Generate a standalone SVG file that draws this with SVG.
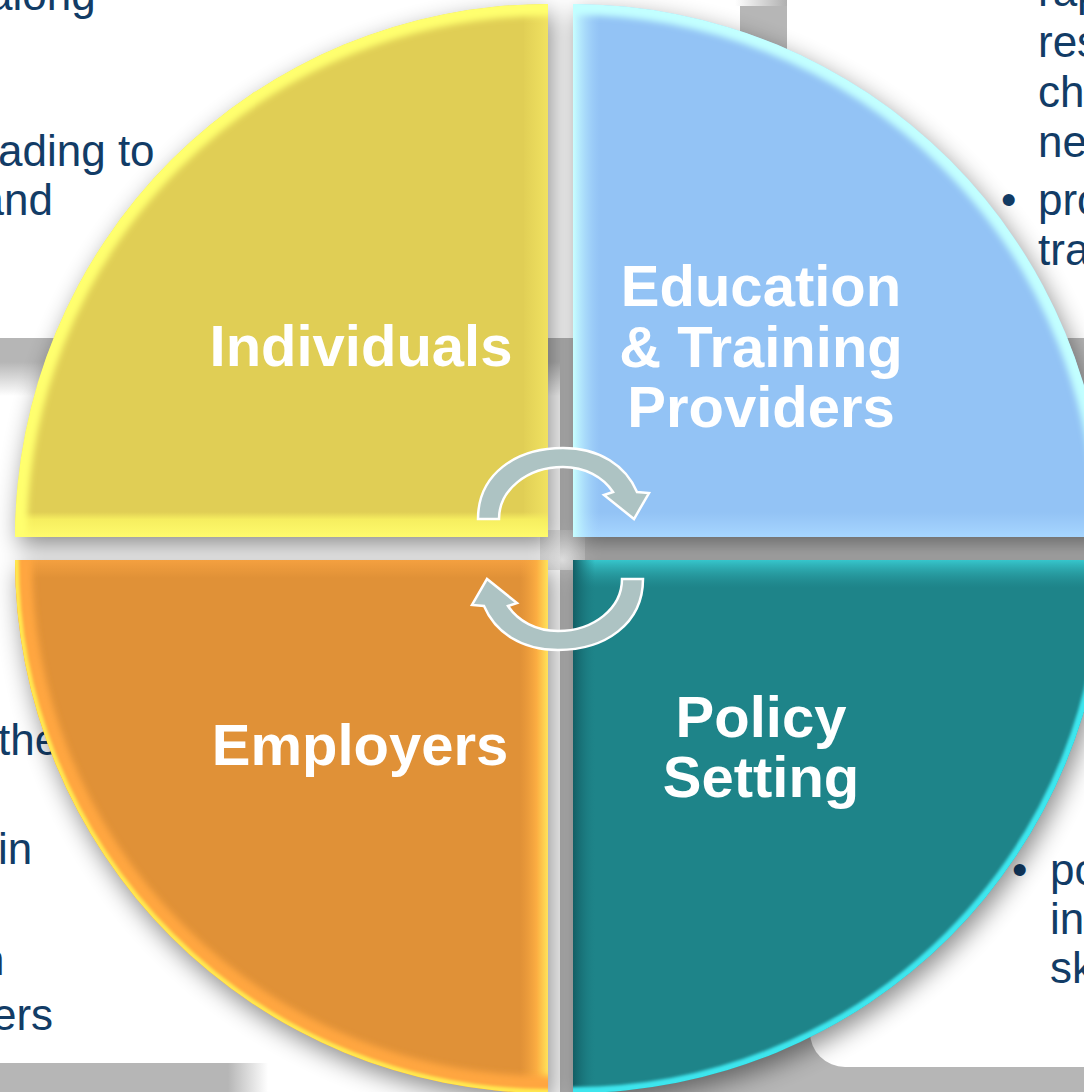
<svg xmlns="http://www.w3.org/2000/svg" xmlns:xlink="http://www.w3.org/1999/xlink" width="1084" height="1092" viewBox="0 0 1084 1092">
<defs>
<style>
.lbl{font-family:"Liberation Sans",Arial,sans-serif;font-weight:bold;font-size:58px;fill:#ffffff;text-anchor:middle}
.bt{font-family:"Liberation Sans",Arial,sans-serif;font-size:44px;fill:#123c66}
.arr{fill:#adc3c3;stroke:#ffffff;stroke-width:2.5;stroke-linejoin:miter}
</style>
<filter id="blur3" x="-10%" y="-10%" width="120%" height="120%"><feGaussianBlur stdDeviation="3"/></filter>
<filter id="blur1" x="-10%" y="-10%" width="120%" height="120%"><feGaussianBlur stdDeviation="1.5"/></filter>
<filter id="shadow" x="-20%" y="-20%" width="140%" height="140%"><feGaussianBlur stdDeviation="12"/></filter>
<path id="q1" d="M548,537 L15,537 A533,533 0 0 1 548,4 Z"/>
<path id="q2" d="M573,537 L573,4 A533,533 0 0 1 1106,537 Z"/>
<path id="q3" d="M548,560 L548,1093 A533,533 0 0 1 15,560 Z"/>
<path id="q4" d="M573,560 L1106,560 A533,533 0 0 1 573,1093 Z"/>
<clipPath id="c1"><use xlink:href="#q1"/></clipPath>
<clipPath id="c2"><use xlink:href="#q2"/></clipPath>
<clipPath id="c3"><use xlink:href="#q3"/></clipPath>
<clipPath id="c4"><use xlink:href="#q4"/></clipPath>
<linearGradient id="blTop" gradientUnits="userSpaceOnUse" x1="0" y1="362" x2="0" y2="396"><stop offset="0" stop-color="#b6b6b6"/><stop offset="1" stop-color="#ffffff"/></linearGradient>
<linearGradient id="blBot" gradientUnits="userSpaceOnUse" x1="228" y1="0" x2="268" y2="0"><stop offset="0" stop-color="#b6b6b6"/><stop offset="1" stop-color="#ffffff"/></linearGradient>
<linearGradient id="topGap" gradientUnits="userSpaceOnUse" x1="735" y1="0" x2="787" y2="0"><stop offset="0" stop-color="#ffffff"/><stop offset="1" stop-color="#b0b0b0"/></linearGradient>
<linearGradient id="yB" gradientUnits="userSpaceOnUse" x1="0" y1="512" x2="0" y2="537"><stop offset="0" stop-color="#f6ee60" stop-opacity="0"/><stop offset="0.3" stop-color="#f6ee60" stop-opacity="1"/><stop offset="1" stop-color="#fffb6c"/></linearGradient>
<linearGradient id="yR" gradientUnits="userSpaceOnUse" x1="522" y1="0" x2="548" y2="0"><stop offset="0" stop-color="#f2e462" stop-opacity="0"/><stop offset="1" stop-color="#f2e462" stop-opacity="0.9"/></linearGradient>
<linearGradient id="bL" gradientUnits="userSpaceOnUse" x1="573" y1="0" x2="600" y2="0"><stop offset="0" stop-color="#c8ffff"/><stop offset="1" stop-color="#a8d8ff" stop-opacity="0"/></linearGradient>
<linearGradient id="bB" gradientUnits="userSpaceOnUse" x1="0" y1="512" x2="0" y2="537"><stop offset="0" stop-color="#a6d4ff" stop-opacity="0"/><stop offset="1" stop-color="#a6d6ff"/></linearGradient>
<linearGradient id="oR" gradientUnits="userSpaceOnUse" x1="520" y1="0" x2="548" y2="0"><stop offset="0" stop-color="#f4a23e" stop-opacity="0"/><stop offset="0.6" stop-color="#fcae42"/><stop offset="1" stop-color="#ffe35a"/></linearGradient>
<linearGradient id="oT" gradientUnits="userSpaceOnUse" x1="0" y1="560" x2="0" y2="578"><stop offset="0" stop-color="#f4a040"/><stop offset="1" stop-color="#f4a040" stop-opacity="0"/></linearGradient>
<linearGradient id="tT" gradientUnits="userSpaceOnUse" x1="0" y1="560" x2="0" y2="588"><stop offset="0" stop-color="#36c6cc"/><stop offset="1" stop-color="#2a9ca2" stop-opacity="0"/></linearGradient>
<linearGradient id="tL" gradientUnits="userSpaceOnUse" x1="573" y1="0" x2="595" y2="0"><stop offset="0" stop-color="#125e64"/><stop offset="1" stop-color="#1a7a80" stop-opacity="0"/></linearGradient>
<radialGradient id="gapHi" gradientUnits="userSpaceOnUse" cx="562" cy="560" r="60"><stop offset="0" stop-color="#e6e6e6"/><stop offset="1" stop-color="#b6b6b6" stop-opacity="0"/></radialGradient>
</defs>

<g id="background">
<rect x="0" y="0" width="1084" height="1092" fill="#b6b6b6"/>
<rect x="-40" y="-40" width="780" height="378" rx="30" fill="#ffffff"/>
<rect x="735" y="0" width="52" height="6" fill="url(#topGap)"/>
<rect x="787" y="-40" width="340" height="378" rx="30" fill="#ffffff"/>
<rect x="-40" y="362" width="600" height="701" fill="url(#blTop)"/>
<rect x="228" y="1063" width="332" height="40" fill="url(#blBot)"/>
<rect x="810" y="590" width="320" height="477" rx="35" fill="#ffffff"/>
<rect x="540" y="530" width="45" height="40" fill="url(#gapHi)"/>
<text class="bt" x="-12" y="10">along</text>
<text class="bt" x="-2" y="166">ading to</text>
<text class="bt" x="-20.5" y="215">and</text>
<text class="bt" x="1038" y="6">rap</text>
<text class="bt" x="1038" y="57">res</text>
<text class="bt" x="1038" y="107">ch</text>
<text class="bt" x="1038" y="157">ne</text>
<text class="bt" x="1001" y="215">•</text>
<text class="bt" x="1038" y="215">pro</text>
<text class="bt" x="1038" y="265">tra</text>
<text class="bt" x="-2" y="755">the</text>
<text class="bt" x="-2" y="864">in</text>
<text class="bt" x="-20" y="975">n</text>
<text class="bt" x="-8" y="1030">ers</text>
<text class="bt" x="1012" y="885">•</text>
<text class="bt" x="1050" y="885">po</text>
<text class="bt" x="1050" y="934">in</text>
<text class="bt" x="1050" y="983">sk</text>
</g>

<g id="shadow-layer" filter="url(#shadow)" opacity="0.45" transform="translate(4,9)">
<use xlink:href="#q1" fill="#000"/>
<use xlink:href="#q2" fill="#000"/>
<use xlink:href="#q3" fill="#000"/>
<use xlink:href="#q4" fill="#000"/>
</g>

<g id="individuals">
<g clip-path="url(#c1)">
<use xlink:href="#q1" fill="#e0ce55"/>
<rect x="524" y="0" width="24" height="537" fill="url(#yR)"/>
<rect x="0" y="512" width="548" height="25" fill="url(#yB)"/>
<circle cx="548" cy="537" r="533" fill="none" stroke="#ffff6e" stroke-width="24" filter="url(#blur3)"/>
</g>
<text class="lbl" x="361" y="366">Individuals</text>
</g>

<g id="education">
<g clip-path="url(#c2)">
<use xlink:href="#q2" fill="#93c3f5"/>
<rect x="573" y="512" width="533" height="25" fill="url(#bB)"/>
<rect x="573" y="0" width="27" height="537" fill="url(#bL)"/>
<circle cx="573" cy="537" r="533" fill="none" stroke="#c2ffff" stroke-width="22" filter="url(#blur3)"/>
</g>
<text class="lbl" x="761" y="306">Education</text>
<text class="lbl" x="761" y="367">&amp; Training</text>
<text class="lbl" x="761" y="427">Providers</text>
</g>

<g id="employers">
<g clip-path="url(#c3)">
<use xlink:href="#q3" fill="#e09137"/>
<rect x="0" y="560" width="548" height="18" fill="url(#oT)"/>
<rect x="520" y="560" width="28" height="533" fill="url(#oR)"/>
<circle cx="548" cy="560" r="533" fill="none" stroke="#ffa640" stroke-width="34" filter="url(#blur3)"/>
<circle cx="548" cy="560" r="533" fill="none" stroke="#ffe850" stroke-width="8" filter="url(#blur1)"/>
</g>
<text class="lbl" x="360" y="765">Employers</text>
</g>

<g id="policy">
<g clip-path="url(#c4)">
<use xlink:href="#q4" fill="#1e8489"/>
<rect x="573" y="560" width="533" height="28" fill="url(#tT)"/>
<rect x="573" y="560" width="22" height="533" fill="url(#tL)"/>
<circle cx="573" cy="560" r="533" fill="none" stroke="#3ee6ee" stroke-width="12" filter="url(#blur1)"/>
</g>
<text class="lbl" x="761" y="737">Policy</text>
<text class="lbl" x="761" y="797">Setting</text>
</g>

<g id="connectors">
<path id="arrowTop" class="arr" d="M478,519 C478,474 516,448 563,448 C600,448 626,466 637,492 L649,493 L634,519 L604,495 L613,492 C603,477 585,467 563,467 C527,467 499,490 499,519 Z"/>
<path id="arrowBottom" class="arr" transform="rotate(180 560.5 549)" d="M478,519 C478,474 516,448 563,448 C600,448 626,466 637,492 L649,493 L634,519 L604,495 L613,492 C603,477 585,467 563,467 C527,467 499,490 499,519 Z"/>
</g>
</svg>
